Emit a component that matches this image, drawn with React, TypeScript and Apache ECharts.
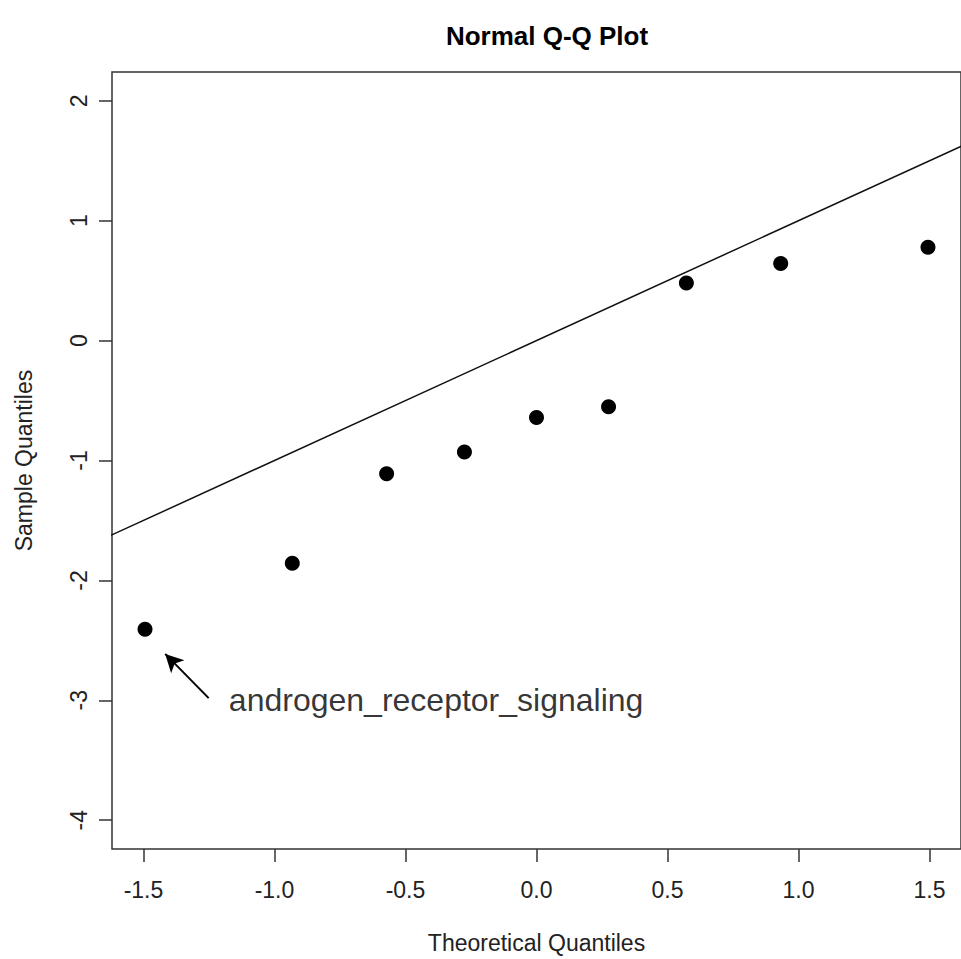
import React, { useEffect, useRef } from "react";
import * as echarts from "echarts";

const theoretical = [-1.494, -0.932, -0.572, -0.275, 0.0, 0.275, 0.572, 0.932, 1.494];
const sample = [-2.407, -1.856, -1.11, -0.929, -0.641, -0.552, 0.48, 0.642, 0.778];
const xTicks = [-1.5, -1.0, -0.5, 0.0, 0.5, 1.0, 1.5];
const yTicks = [-4, -3, -2, -1, 0, 1, 2];
const refLine = [[-2, -2], [2, 2]];
const arrowFrom = [-1.251, -2.982];
const arrowTo = [-1.417, -2.613];
const annotationPos = [-1.176, -3.0];
const annotationText = "androgen_receptor_signaling";

const FONT = "'Liberation Sans', Arial, sans-serif";
const AXIS_COLOR = "#333";

export default function App() {
  const ref = useRef<HTMLDivElement>(null);
  useEffect(() => {
    if (!ref.current) return;
    const chart = echarts.init(ref.current, undefined, { renderer: "svg" });
    const points = theoretical.map((x, i) => [x, sample[i]]);
    chart.setOption({
      animation: false,
      backgroundColor: "#fff",
      title: {
        text: "Normal Q-Q Plot",
        left: 542,
        top: 18,
        textAlign: "center",
        textStyle: { fontFamily: FONT, fontWeight: "bold", fontSize: 26, color: "#000" },
      },
      grid: {
        left: 112,
        right: -11,
        top: 72,
        bottom: 110,
        show: true,
        borderColor: AXIS_COLOR,
        borderWidth: 1.5,
        backgroundColor: "transparent",
      },
      xAxis: {
        type: "value",
        min: -1.62,
        max: 1.62,
        name: "Theoretical Quantiles",
        nameLocation: "middle",
        nameGap: 82,
        nameTextStyle: { fontFamily: FONT, fontSize: 23, color: "#222" },
        axisLine: { show: false, onZero: false },
        splitLine: { show: false },
        axisTick: {
          show: true,
          length: 13,
          customValues: xTicks,
          lineStyle: { color: AXIS_COLOR, width: 1.5 },
        },
        axisLabel: {
          customValues: xTicks,
          margin: 29,
          fontFamily: FONT,
          fontSize: 23,
          color: "#222",
          formatter: (v: number) => v.toFixed(1),
        },
      },
      yAxis: {
        type: "value",
        min: -4.24,
        max: 2.24,
        name: "Sample Quantiles",
        nameLocation: "middle",
        nameGap: 77,
        nameTextStyle: { fontFamily: FONT, fontSize: 23, color: "#222" },
        axisLine: { show: false, onZero: false },
        splitLine: { show: false },
        axisTick: {
          show: true,
          length: 13,
          customValues: yTicks,
          lineStyle: { color: AXIS_COLOR, width: 1.5 },
        },
        axisLabel: {
          customValues: yTicks,
          rotate: 90,
          margin: 22,
          fontFamily: FONT,
          fontSize: 23,
          color: "#222",
          formatter: (v: number) => String(v),
        },
      },
      series: [
        {
          type: "line",
          data: refLine,
          symbol: "none",
          clip: true,
          silent: true,
          lineStyle: { color: "#111", width: 1.5 },
        },
        {
          type: "scatter",
          data: points,
          symbol: "circle",
          symbolSize: 15,
          itemStyle: { color: "#000", opacity: 1 },
          markLine: {
            silent: true,
            symbol: ["none", "arrow"],
            symbolSize: [14, 18],
            label: { show: false },
            lineStyle: { color: "#000", width: 2, type: "solid", opacity: 1 },
            data: [[{ coord: arrowFrom }, { coord: arrowTo }]],
          },
        },
        {
          type: "scatter",
          data: [annotationPos],
          symbolSize: 1,
          itemStyle: { color: "rgba(0,0,0,0)" },
          silent: true,
          label: {
            show: true,
            position: "right",
            distance: 0,
            formatter: annotationText,
            fontFamily: FONT,
            fontSize: 32,
            color: "#000",
          },
        },
      ],
    });
    return () => chart.dispose();
  }, []);
  return (
    <div
      ref={ref}
      style={{ position: "absolute", left: 0, top: 0, width: 961, height: 959, background: "#fff" }}
    />
  );
}
